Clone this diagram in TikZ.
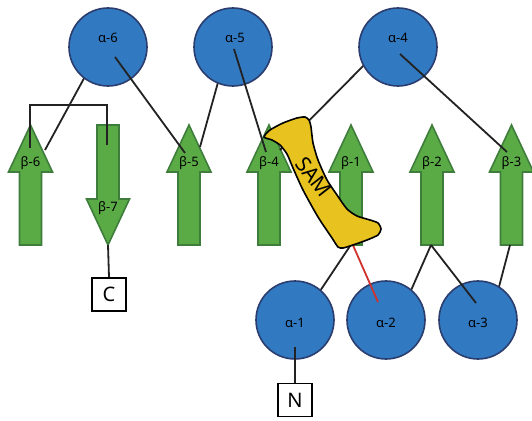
\documentclass[tikz,border=0pt]{standalone}
\usepackage{fontspec}
\setmainfont{Noto Sans}
\definecolor{helixfill}{HTML}{3179C1}
\definecolor{helixborder}{HTML}{2B3D6E}
\definecolor{strandfill}{HTML}{5AAB46}
\definecolor{strandborder}{HTML}{3E7D3B}
\definecolor{samfill}{HTML}{E8C21E}
\definecolor{linecol}{HTML}{222222}
\definecolor{redline}{HTML}{D0312D}
\begin{document}
\begin{tikzpicture}[x=1pt,y=-1pt,
  helix/.style={circle,draw=helixborder,fill=helixfill,line width=1.6pt,minimum size=78pt,inner sep=0pt},
  strand/.style={draw=strandborder,fill=strandfill,line width=1.6pt,line join=miter},
  conn/.style={draw=linecol,line width=1.8pt},
  lbl/.style={font=\fontsize{13}{15}\selectfont,inner sep=0pt,text=black},
  term/.style={draw=black,line width=1.6pt,fill=white,minimum width=34pt,minimum height=33pt,inner sep=0pt,font=\fontsize{20}{22}\selectfont},
  upstrand/.pic={\path[strand] (-11,245) -- (-11,172) -- (-22,172) -- (0,125) -- (22,172) -- (11,172) -- (11,245) -- cycle;},
  downstrand/.pic={\path[strand] (-11,125) -- (-11,199) -- (-21.5,199) -- (0,245) -- (21.5,199) -- (11,199) -- (11,125) -- cycle;}]
\useasboundingbox (0,0) rectangle (532,420);

% strands
\pic at (30.5,0) {upstrand};
\pic at (108,0) {downstrand};
\pic at (189,0) {upstrand};
\pic at (269,0) {upstrand};
\pic at (351,0) {upstrand};
\pic at (432,0) {upstrand};
\pic at (511.5,0) {upstrand};
\node[lbl] (b6) at (30.5,163) {β-6};
\node[lbl] (b7) at (108,208) {β-7};
\node[lbl] (b5) at (189,163) {β-5};
\node[lbl] (b4) at (269,163) {β-4};
\node[lbl] (b1) at (351,163) {β-1};
\node[lbl] (b2) at (432,163) {β-2};
\node[lbl] (b3) at (511.5,163) {β-3};

% connector end points
\coordinate (a6in) at (94,60);
\coordinate (b6a) at (45,150);
\coordinate (a5in) at (222,68);
\coordinate (b5b) at (200,147);
\coordinate (a4in) at (375,54);
\coordinate (b4b) at (280,150);
\coordinate (a1in) at (310,306);
\coordinate (b1bot) at (352,243);
\coordinate (a2in) at (405,304);
\coordinate (b2bot) at (431,245);
\coordinate (a3in) at (495,302);
\coordinate (b3bot) at (510,245);
\coordinate (a6out) at (115,57);
\coordinate (b5a) at (185,153);
\coordinate (a5out) at (234,49);
\coordinate (b4a) at (266,152);
\coordinate (a4out) at (400,54);
\coordinate (b3a) at (507,152);
\coordinate (a2out) at (378,302);
\coordinate (a3out) at (476,303);
\coordinate (a1out) at (295,347);
\coordinate (b6top) at (30,148);
\coordinate (b7top) at (107,145);
\coordinate (b7tip) at (108,245);

% lines under helices
\draw[conn] (a6in) -- (b6a);
\draw[conn] (a5in) -- (b5b);
\draw[conn] (a4in) -- (b4b);
\draw[conn] (a1in) -- (b1bot);
\draw[conn] (a2in) -- (b2bot);
\draw[conn] (a3in) -- (b3bot);

% helices
\node[helix] (a6) at (108,47) {};
\node[helix] (a5) at (233,47) {};
\node[helix] (a4) at (398,47) {};
\node[helix] (a1) at (295,320) {};
\node[helix] (a2) at (386,320) {};
\node[helix] (a3) at (478,320) {};
\node[lbl] at (108,38) {α-6};
\node[lbl] at (235,38) {α-5};
\node[lbl] at (398,38) {α-4};
\node[lbl] at (295,323) {α-1};
\node[lbl] at (386,323) {α-2};
\node[lbl] at (478,323) {α-3};

% termini
\node[term] (N) at (295,400) {N};
\node[term] (C) at (109,294.5) {C};

% lines over helices
\draw[conn] (a6out) -- (b5a);
\draw[conn] (a5out) -- (b4a);
\draw[conn] (a4out) -- (b3a);
\draw[draw=redline,line width=1.8pt] (a2out) -- (b1bot);
\draw[conn] (a3out) -- (b2bot);
\draw[conn] (a1out) -- (N.north);
\draw[conn] (b6top) -- ++(0,-43) -| (b7top);
\draw[conn] (b7tip) -- (C.north);

% SAM ribbon
\draw[black,fill=samfill,line width=1.6pt,line join=round] plot[smooth cycle,tension=0.4] coordinates {
  (264,137) (270,130) (283,123) (297,118) (305,117) (309,120) (311,127)
  (313,143) (318,160) (327,180) (337,195) (347,209) (357,216) (370,220)
  (378,223) (381,229) (378,235) (367,240) (353,245) (343,248) (338,247)
  (332,238) (318,217) (303,190) (293,168) (287,154) (280,145) (272,140)};
\node[font=\fontsize{21}{23}\selectfont,rotate=-52,inner sep=0pt] (sam) at (314,177) {SAM};
\end{tikzpicture}
\end{document}
